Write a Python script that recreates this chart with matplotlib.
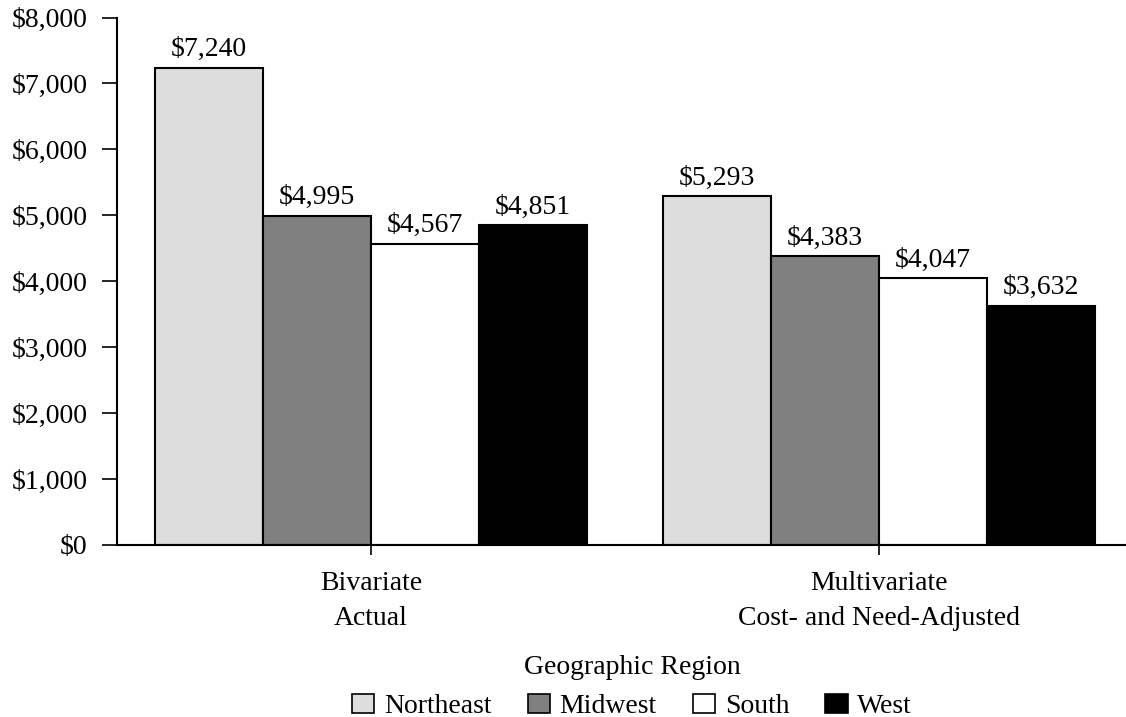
import matplotlib.pyplot as plt
import numpy as np
from matplotlib.patches import Patch

# Data
groups = ["Bivariate\nActual", "Multivariate\nCost- and Need-Adjusted"]
regions = ["Northeast", "Midwest", "South", "West"]
northeast = [7240, 5293]
midwest = [4995, 4383]
south = [4567, 4047]
west = [4851, 3632]
colors = ["#dddddd", "#808080", "#ffffff", "#000000"]

plt.rcParams['font.family'] = ['Liberation Serif', 'DejaVu Serif']
fs = 20

fig = plt.figure(figsize=(11.26, 7.17), dpi=100)
ax = fig.add_axes([117 / 1126, 172 / 717, 1016 / 1126, 527.5 / 717])

x = np.arange(len(groups))
width = 0.2126
series = [northeast, midwest, south, west]
for i, (vals, col) in enumerate(zip(series, colors)):
    offs = (i - 1.5) * width
    bars = ax.bar(x + offs, vals, width, color=col, edgecolor="black", linewidth=1.5)
    ax.bar_label(bars, labels=[f"${v:,}" for v in vals], padding=4, fontsize=fs)

ax.set_xlim(-0.5, 1.5)
ax.set_ylim(0, 8000)
ax.set_yticks(np.arange(0, 8001, 1000))
ax.set_yticklabels([f"${v:,}" for v in range(0, 8001, 1000)], fontsize=fs)
ax.set_xticks(x)
ax.set_xticklabels(groups, fontsize=fs, linespacing=1.5)
ax.tick_params(axis="y", length=11, width=1.2, pad=10)
ax.tick_params(axis="x", length=7, width=1.2, pad=12)

for side in ["top", "right"]:
    ax.spines[side].set_visible(False)
for side in ["left", "bottom"]:
    ax.spines[side].set_linewidth(1.5)

handles = [Patch(facecolor=c, edgecolor="black", linewidth=1.2) for c in colors]
fig.legend(handles, regions, loc="lower center", bbox_to_anchor=(632 / 1126, -0.03),
           ncol=4, frameon=False, fontsize=fs, title="Geographic Region",
           title_fontsize=fs, handlelength=0.8, handleheight=0.65,
           handletextpad=0.35, columnspacing=1.3, borderpad=0.2, labelspacing=0.5)

fig.savefig("out.png", dpi=100)
